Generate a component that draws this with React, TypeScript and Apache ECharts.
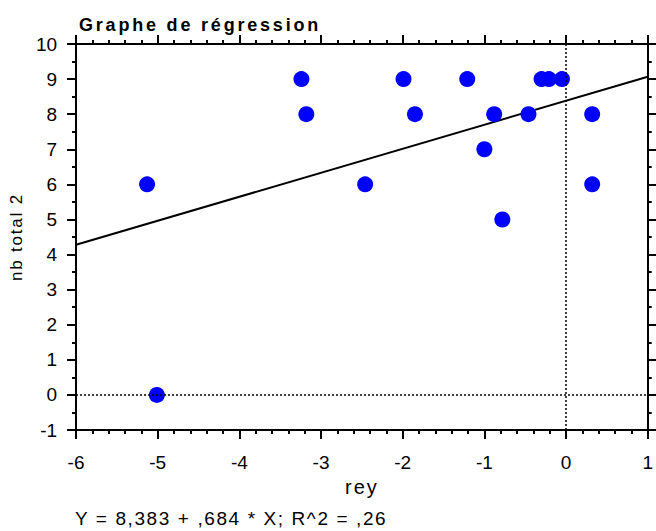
import React, { useEffect, useRef } from "react";
import * as echarts from "echarts";

const reyValues = [-5.01, -5.13, -3.24, -3.18, -2.46, -1.99, -1.85, -1.21, -1.0, -0.88, -0.78, -0.46, -0.3, -0.21, -0.05, 0.32, 0.32];
const nbTotal2 = [0, 6, 9, 8, 6, 9, 8, 9, 7, 8, 5, 8, 9, 9, 9, 8, 6];
const intercept = 8.383;
const slope = 0.684;
const xRange = [-6, 1];
const yRange = [-1, 10];
const titleText = "Graphe de régression";
const xName = "rey";
const yName = "nb total 2";
const equationText = "Y = 8,383 + ,684 * X; R^2 = ,26";

const FONT = "'Liberation Sans', Arial, sans-serif";

const spacing: Record<string, string> = {
  [titleText]: "2.8px",
  [equationText]: "1.6px",
  [yName]: "1.8px",
  [xName]: "2px",
};

export default function App() {
  const ref = useRef<HTMLDivElement>(null);
  useEffect(() => {
    if (!ref.current) return;
    const chart = echarts.init(ref.current, undefined, { renderer: "svg" });
    const points = reyValues.map((x, i) => [x, nbTotal2[i]]);
    const linePts = xRange.map((x) => [x, intercept + slope * x]);
    const axisLine = { show: true, onZero: false, lineStyle: { color: "#000", width: 2 } };
    const axisTick = { show: true, inside: false, length: 9, lineStyle: { color: "#000", width: 2 } };
    const minorTick = { show: true, length: 4, lineStyle: { color: "#000", width: 2 } };
    chart.setOption({
      animation: false,
      textStyle: { fontFamily: FONT },
      title: {
        text: titleText,
        left: 74,
        top: 11,
        textStyle: { fontFamily: FONT, fontSize: 18, fontWeight: "bold", color: "#000" },
      },
      grid: { left: 76, right: 4, top: 44, bottom: 101, containLabel: false },
      xAxis: [
        {
          type: "value",
          position: "bottom",
          min: xRange[0],
          max: xRange[1],
          interval: 1,
          axisLine,
          axisTick,
          minorTick: { ...minorTick, splitNumber: 5 },
          splitLine: { show: false },
          axisLabel: { fontSize: 19, color: "#000", margin: 23, fontFamily: FONT },
          name: xName,
          nameLocation: "middle",
          nameGap: 44,
          nameTextStyle: { fontSize: 20, color: "#000", fontFamily: FONT },
        },
        {
          type: "value",
          position: "top",
          min: xRange[0],
          max: xRange[1],
          interval: 1,
          axisLine,
          axisTick,
          minorTick: { ...minorTick, splitNumber: 5 },
          splitLine: { show: false },
          axisLabel: { show: false },
        },
      ],
      yAxis: [
        {
          type: "value",
          position: "left",
          min: yRange[0],
          max: yRange[1],
          interval: 1,
          axisLine,
          axisTick,
          minorTick: { ...minorTick, splitNumber: 2 },
          splitLine: { show: false },
          axisLabel: { fontSize: 19, color: "#000", margin: 19, fontFamily: FONT, padding: [6, 0, 0, 0] },
          name: yName,
          nameLocation: "middle",
          nameGap: 47,
          nameTextStyle: { fontSize: 17, color: "#000", fontFamily: FONT },
        },
        {
          type: "value",
          position: "right",
          min: yRange[0],
          max: yRange[1],
          interval: 1,
          axisLine,
          axisTick,
          minorTick: { ...minorTick, splitNumber: 2 },
          splitLine: { show: false },
          axisLabel: { show: false },
        },
      ],
      series: [
        {
          type: "line",
          data: linePts,
          symbol: "none",
          lineStyle: { color: "#000", width: 2 },
          silent: true,
          z: 2,
          markLine: {
            silent: true,
            symbol: "none",
            label: { show: false },
            lineStyle: { color: "#000", width: 1.5, type: [2, 2] },
            data: [{ xAxis: 0 }, { yAxis: 0 }],
          },
        },
        {
          type: "scatter",
          data: points,
          symbol: "circle",
          symbolSize: 16,
          itemStyle: { color: "#0000FF", opacity: 1 },
          z: 3,
        },
      ],
      graphic: [
        {
          type: "text",
          left: 75,
          top: 509,
          style: { text: equationText, fontSize: 19, fill: "#000", fontFamily: FONT },
        },
      ],
    });
    const applySpacing = () => {
      ref.current?.querySelectorAll("text").forEach((t) => {
        const s = spacing[(t.textContent || "").trim()];
        if (s) t.setAttribute("letter-spacing", s);
      });
    };
    applySpacing();
    chart.on("finished", applySpacing);
    return () => chart.dispose();
  }, []);
  return <div ref={ref} style={{ position: "absolute", left: 0, top: 0, width: 656, height: 531 }} />;
}
